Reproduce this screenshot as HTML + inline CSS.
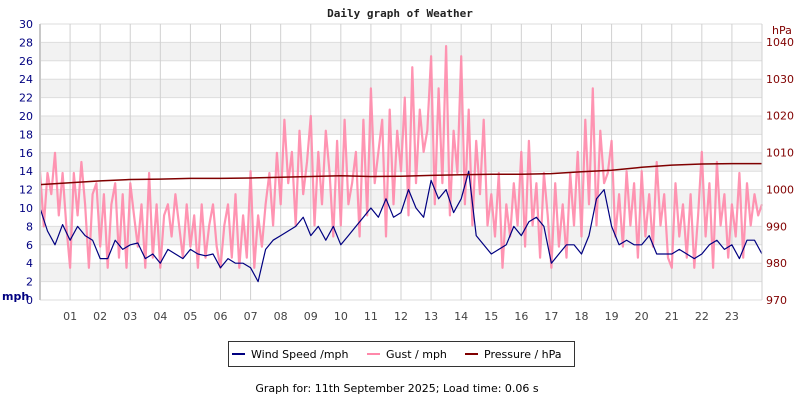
<!DOCTYPE html>
<html><head><meta charset="utf-8"><style>
body{margin:0;background:#fff;}
svg{display:block;font-family:"DejaVu Sans","Liberation Sans",sans-serif;}
</style></head><body>
<svg id="chart" width="800" height="400" viewBox="0 0 800 400">
<text x="400" y="17" text-anchor="middle" font-family="DejaVu Sans Mono, Liberation Mono, monospace" font-weight="bold" font-size="11" fill="#222">Daily graph of Weather</text>
<g id="grid"></g>
<g id="series"></g>
<g id="axes"></g>
<text x="2" y="300" font-weight="bold" font-size="11" fill="#000080">mph</text>
<text x="772" y="34" font-size="11" fill="#800000">hPa</text>
<g>
<rect x="228.5" y="341.5" width="346" height="25" fill="#fff" stroke="#333"/>
<g><line x1="232" y1="354" x2="245" y2="354" stroke="#000080" stroke-width="2"/><text x="251" y="358" font-size="11" fill="#000">Wind Speed /mph</text></g>
<g><line x1="367" y1="354" x2="380" y2="354" stroke="#ff88aa" stroke-width="2"/><text x="386" y="358" font-size="11" fill="#000">Gust / mph</text></g>
<g><line x1="465" y1="354" x2="478" y2="354" stroke="#800000" stroke-width="2"/><text x="484" y="358" font-size="11" fill="#000">Pressure / hPa</text></g>
</g>
<text x="397" y="392" text-anchor="middle" font-size="11" fill="#000">Graph for: 11th September 2025; Load time: 0.06 s</text>
</svg>
<script>
const hourLabels=["01","02","03","04","05","06","07","08","09","10","11","12","13","14","15","16","17","18","19","20","21","22","23"];
const leftTicks=[0,2,4,6,8,10,12,14,16,18,20,22,24,26,28,30];
const rightTicks=[970,980,990,1000,1010,1020,1030,1040];
const windSpeed=[10,7.5,6,8.2, 6.5,8,7,6.5, 4.5,4.5,6.5,5.5, 6,6.2,4.5,5, 4,5.5,5,4.5, 5.5,5,4.8,5, 3.5,4.5,4,4, 3.5,2,5.5,6.5, 7,7.5,8,9, 7,8,6.5,8, 6,7,8,9, 10,9,11,9, 9.5,12,10,9, 13,11,12,9.5, 11,14,7,6, 5,5.5,6,8, 7,8.5,9,8, 4,5,6,6, 5,7,11,12, 8,6,6.5,6, 6,7,5,5, 5,5.5,5,4.5, 5,6,6.5,5.5, 6,4.5,6.5,6.5, 5];
const gust=[14,8,13.8,11.5,16,9.2,13.8,8.1, 3.5,13.8,9.2,15,10.4,3.5,11.5,12.7, 5.8,11.5,3.5,10.4,12.7,4.6,11.5,3.5, 12.7,9.2,5.8,10.4,3.5,13.8,4.6,10.4, 3.5,9.2,10.4,6.9,11.5,8.1,4.6,10.4, 5.8,9.2,3.5,10.4,4.6,8.1,10.4,5.8, 3.5,8.1,10.4,4.6,11.5,3.5,9.2,4.6, 14,3.5,9.2,5.8,10.4,13.8,8.1,16, 10.4,19.6,12.7,16.1,8.1,18.4,11.5,15, 20,8.1,16.1,10.4,18.4,13.8,6.9,17.3, 8.1,19.6,10.4,12.7,16.1,6.9,19.6,9.2, 23,12.7,16.1,19.6,6.9,20.7,10.4,18.4, 14,22,9.2,25.3,12.7,20.7,16.1,18.4, 26.5,10.4,23,12.7,27.6,9.2,18.4,13.8, 26.5,10.4,20.7,8.1,17.3,11.5,19.6,8.1, 11.5,6.9,13.8,3.5,10.4,6.9,12.7,8.1, 16.1,5.8,17.3,8.1,12.7,4.6,13.8,9.2, 3.5,12.7,5.8,10.4,4.6,13.8,8.1,16.1, 6.9,19.6,10.4,23,8.1,18.4,12.7,13.8, 17.3,6.9,11.5,5.8,14,8.1,12.7,4.6, 14,6.9,11.5,5.8,15,8.1,11.5,4.6, 3.5,12.7,6.9,10.4,4.6,11.5,3.5,9.2, 16.1,6.9,12.7,3.5,15,8.1,11.5,4.6, 10.4,6.9,13.8,4.6,12.7,8.1,11.5,9.2, 10.4];
const pressure=[1001.3,1001.8,1002.3,1002.7,1002.8,1003.0,1003.0,1003.1,1003.3,1003.5,1003.7,1003.5,1003.6,1003.8,1004.0,1004.1,1004.1,1004.3,1004.8,1005.2,1006.0,1006.6,1006.9,1007.0,1007.0];

const X0=40,X1=762,Y0=300,Y1=24;
const NS="http://www.w3.org/2000/svg";
function xHour(h){return X0+(X1-X0)*h/24;}
function yL(v){return Y0-(Y0-Y1)*v/30;}
function yR(p){return Y0-(p-970)*36.86/10;}
function mk(tag,attrs,parent){const e=document.createElementNS(NS,tag);for(const k in attrs)e.setAttribute(k,attrs[k]);parent.appendChild(e);return e;}
const grid=document.getElementById('grid'),series=document.getElementById('series'),axes=document.getElementById('axes');

for(let v=2;v<30;v+=4){
  const b=mk('rect',{x:X0,y:yL(v+2),width:X1-X0,height:yL(v)-yL(v+2),fill:'#f2f2f2'},grid);
  
  
}
leftTicks.forEach(v=>{
  const l=mk('line',{x1:X0,x2:X1,y1:yL(v),y2:yL(v),stroke:'#dddddd','stroke-width':1},grid);
  
  
  const t=mk('text',{x:33,y:yL(v)+4,'text-anchor':'end','font-size':11,fill:'#000080'},axes);
  t.textContent=v;
  
  
});
hourLabels.forEach((lab,i)=>{
  const x=xHour(i+1);
  const l=mk('line',{x1:x,x2:x,y1:Y1,y2:Y0,stroke:'#d0d0d0','stroke-width':1},grid);
  
  
  const t=mk('text',{x:x,y:320,'text-anchor':'middle','font-size':11,fill:'#444'},axes);
  t.textContent=lab;
  
  
});
rightTicks.forEach(p=>{
  const t=mk('text',{x:766,y:yR(p)+4,'font-size':11,fill:'#800000'},axes);
  t.textContent=p;
  
  
});
const ax=mk('line',{x1:X0,x2:X0,y1:Y1,y2:Y0,stroke:'#c8c8c8','stroke-width':2},axes);


const ax2=mk('line',{x1:X1,x2:X1,y1:Y1,y2:Y0,stroke:'#d0d0d0','stroke-width':1},axes);



function path(arr,yf,color,w,name){
  const n=arr.length-1;
  const d=arr.map((v,i)=>(i?'L':'M')+xHour(24*i/n).toFixed(1)+','+yf(v).toFixed(1)).join('');
  const p=mk('path',{d:d,fill:'none',stroke:color,'stroke-width':w,'stroke-linejoin':'round'},series);
  
  
  return p;
}
const gp=path(gust,yL,'#ff88aa',2.2,'gust-line');
gp.setAttribute('stroke-opacity','0.9');
path(windSpeed,yL,'#000080',1.2,'wind-speed-line');
path(pressure,yR,'#800000',1.5,'pressure-line');
</script>
</body></html>
